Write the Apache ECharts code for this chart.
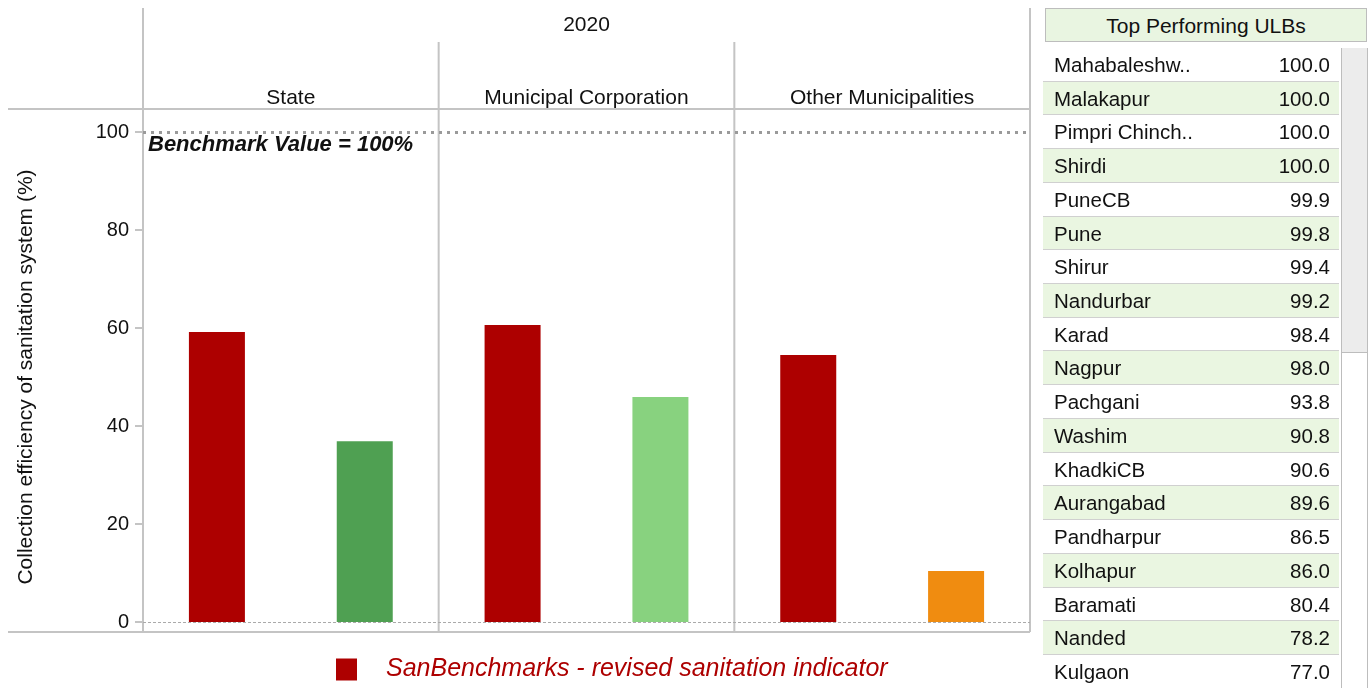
<!DOCTYPE html>
<html>
<head>
<meta charset="utf-8">
<script src="https://cdn.jsdelivr.net/npm/echarts@6/dist/echarts.min.js"></script>
<style>
  body { margin: 0; background: #fff; font-family: 'Liberation Sans', Arial, sans-serif; }
  #chart { position: absolute; left: 0; top: 0; width: 1371px; height: 688px; }
  #ulbHead {
    position: absolute; left: 1045px; top: 8px; width: 320px; height: 32px;
    background: #e9f5e1; border: 1px solid #bdbdbd; color: #111;
    font-size: 21px; line-height: 34px; text-align: center;
  }
  #ulbRows { position: absolute; left: 1043px; top: 48px; width: 296px; }
  .row {
    position: relative; height: 33.72px; box-sizing: border-box;
    border-bottom: 1px solid #d0d0d0; font-size: 20.5px; color: #111;
  }
  .row.alt { background: #eaf6e1; }
  .row .n { position: absolute; left: 11px; top: 5px; }
  .row .v { position: absolute; right: 9px; top: 5px; }
  #scroll {
    position: absolute; left: 1341px; top: 48px; width: 25px; height: 640px;
    border-left: 1px solid #bdbdbd; border-right: 1px solid #bdbdbd; background: #fff;
  }
  #thumb {
    position: absolute; left: 0; top: 0; width: 25px; height: 304px;
    background: #ececec; border-bottom: 1px solid #bdbdbd;
  }
</style>
</head>
<body>
<div id="chart"></div>
<div id="ulbHead">Top Performing ULBs</div>
<div id="ulbRows"></div>
<div id="scroll"><div id="thumb"></div></div>
<script>
const year = '2020';
const facets = ['State', 'Municipal Corporation', 'Other Municipalities'];
const revisedValues = [59.2, 60.6, 54.5];
const compareValues = [36.9, 45.9, 10.4];
const compareColors = ['#4fa052', '#88d27f', '#f08c10'];
const benchmark = 100;

const ulbNames = ['Mahabaleshw..', 'Malakapur', 'Pimpri Chinch..', 'Shirdi', 'PuneCB', 'Pune',
  'Shirur', 'Nandurbar', 'Karad', 'Nagpur', 'Pachgani', 'Washim', 'KhadkiCB', 'Aurangabad',
  'Pandharpur', 'Kolhapur', 'Baramati', 'Nanded', 'Kulgaon'];
const ulbValues = [100.0, 100.0, 100.0, 100.0, 99.9, 99.8, 99.4, 99.2, 98.4, 98.0, 93.8, 90.8,
  90.6, 89.6, 86.5, 86.0, 80.4, 78.2, 77.0];

const red = '#ad0000';
const frameColor = '#c4c4c4';
const font = "'Liberation Sans', Arial, sans-serif";

// table of top ULBs
const rowsEl = document.getElementById('ulbRows');
ulbNames.forEach((name, i) => {
  const row = document.createElement('div');
  row.className = 'row' + (i % 2 ? ' alt' : '');
  row.innerHTML = `<span class="n">${name}</span><span class="v">${ulbValues[i].toFixed(1)}</span>`;
  rowsEl.appendChild(row);
});

const plot = { left: 143, right: 1030, top: 132, bottom: 622 };
const W = 1371, H = 688;
const headerY = 109, frameBottom = 632;
const facetW = (plot.right - plot.left) / facets.length;

const frameLines = [];
frameLines.push({ type: 'line', shape: { x1: 8, y1: headerY, x2: plot.right, y2: headerY } });
frameLines.push({ type: 'line', shape: { x1: 8, y1: frameBottom, x2: plot.right, y2: frameBottom } });
for (let i = 0; i <= facets.length; i++) {
  const x = plot.left + facetW * i;
  const top = (i === 0 || i === facets.length) ? 8 : 42;
  frameLines.push({ type: 'line', shape: { x1: x, y1: top, x2: x, y2: frameBottom } });
}
frameLines.forEach((l) => { l.style = { stroke: frameColor, lineWidth: 2 }; l.z = 1; });

const chart = echarts.init(document.getElementById('chart'));
chart.setOption({
  animation: false,
  textStyle: { fontFamily: font },
  grid: {
    left: plot.left, right: W - plot.right, top: plot.top, bottom: H - plot.bottom
  },
  legend: {
    data: ['SanBenchmarks - revised sanitation indicator'],
    left: 331, top: 652,
    icon: 'rect', itemWidth: 21, itemHeight: 22, itemGap: 10,
    textStyle: { color: red, fontStyle: 'italic', fontSize: 25, fontFamily: font, padding: [2, 0, 0, 24] }
  },
  xAxis: {
    type: 'category',
    position: 'top',
    data: facets,
    axisLine: { show: false },
    axisTick: { show: false },
    axisLabel: { color: '#111', fontSize: 21, margin: 23, interval: 0 }
  },
  yAxis: {
    type: 'value',
    min: 0, max: 100, interval: 20,
    name: 'Collection efficiency of sanitation system (%)',
    nameLocation: 'middle', nameGap: 106, nameRotate: 90,
    nameTextStyle: { color: '#111', fontSize: 21 },
    axisLine: { show: false },
    axisTick: { show: true, length: 8, lineStyle: { color: frameColor, width: 2 } },
    axisLabel: { color: '#111', fontSize: 20, margin: 14 },
    splitLine: { show: false }
  },
  graphic: frameLines.concat([{
    type: 'text', x: (plot.left + plot.right) / 2, y: 25, z: 5,
    style: { text: year, fontSize: 21, fill: '#111', fontFamily: font, align: 'center', verticalAlign: 'middle' }
  }]),
  series: [
    {
      name: 'SanBenchmarks - revised sanitation indicator',
      type: 'bar',
      data: revisedValues,
      barWidth: 56,
      barGap: '164%',
      itemStyle: { color: red },
      markLine: {
        silent: true, symbol: 'none',
        data: [
          {
            yAxis: benchmark,
            lineStyle: { color: '#9a9a9a', type: [3, 5], width: 3 },
            label: {
              show: true, position: 'insideStartBottom', distance: [5, 2],
              formatter: 'Benchmark Value = 100%',
              color: '#111', fontSize: 22, fontWeight: 'bold', fontStyle: 'italic'
            }
          },
          {
            yAxis: 0,
            lineStyle: { color: '#aaaaaa', type: [3, 2], width: 1 },
            label: { show: false }
          }
        ]
      }
    },
    {
      name: 'Comparison',
      type: 'bar',
      barWidth: 56,
      barGap: '164%',
      data: compareValues.map((v, i) => ({ value: v, itemStyle: { color: compareColors[i] } }))
    }
  ]
});
</script>
</body>
</html>
